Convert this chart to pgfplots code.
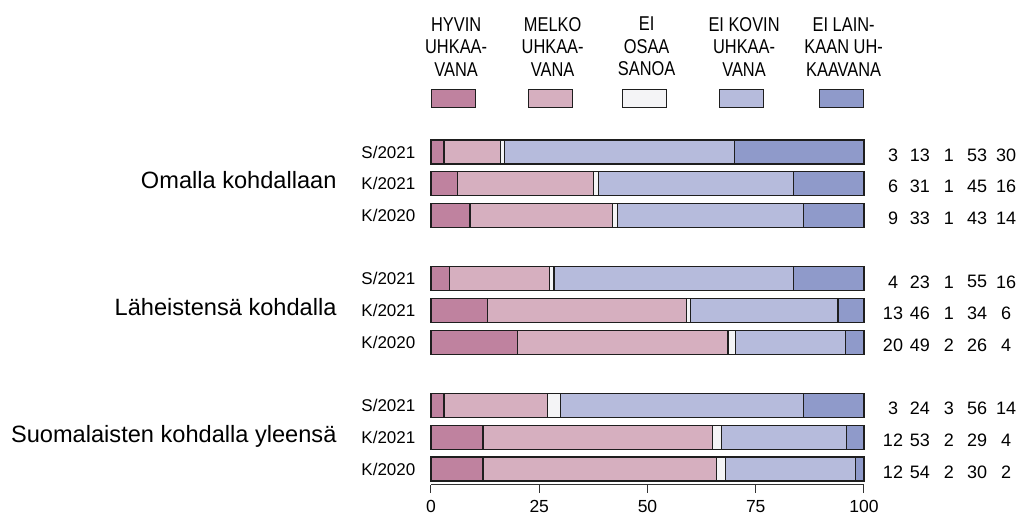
\documentclass[border=0pt]{standalone}
\usepackage{pgfplots}
\pgfplotsset{compat=1.18}
\usepackage{pgfplotstable}
\usepackage{fontspec}
\setmainfont{Liberation Sans}
\newfontfamily\narrowfont[FakeStretch=0.82]{Liberation Sans}

\definecolor{hyvin}{RGB}{191,130,159}
\definecolor{melko}{RGB}{214,175,191}
\definecolor{eos}{RGB}{244,244,246}
\definecolor{kovin}{RGB}{182,187,220}
\definecolor{lainkaan}{RGB}{143,154,202}
\definecolor{edge}{RGB}{30,30,30}

% bar lengths (each row sums to 100)
\pgfplotstableread{
y  a    b    c   d    e
10 3    13   1   53   30
9  6.2  31.4 1.0 45.2 16.2
8  9    33   1   43   14
6  4.3  23.1 1.0 55.4 16.2
5  13   46   1   34   6
4  19.9 48.7 1.8 25.4 4.2
2  3    24   3   56   14
1  12   53   2   29   4
0  12   54   2   30   2
}\data

\begin{document}
\begin{tikzpicture}
\useasboundingbox (0,0) rectangle (509.5pt,256.5pt);
\begin{axis}[
  at={(215.5pt,14.05pt)}, anchor=south west,
  x=2.165pt, y=15.85pt,
  xmin=0, xmax=100, ymin=-0.5, ymax=10.5,
  xbar stacked, bar width=12pt,
  axis lines*=left,
  y axis line style={draw=none},
  x axis line style={line width=0.5pt, black!80},
  tick align=outside, major tick length=4pt,
  xtick={0,25,50,75,100},
  xtick style={line width=0.5pt, black!80},
  ytick={0,1,2,4,5,6,8,9,10},
  yticklabels={K/2020,K/2021,S/2021,K/2020,K/2021,S/2021,K/2020,K/2021,S/2021},
  ytick style={draw=none},
  yticklabel style={font=\fontsize{8.5}{10}\selectfont, xshift=-0.3pt},
  xticklabel style={font=\fontsize{8.75}{10}\selectfont},
  /pgf/number format/assume math mode=true,
  clip=false,
  every axis plot/.append style={draw=edge, line width=0.55pt},
]
\addplot[fill=hyvin]    table[x=a, y=y]{\data};
\addplot[fill=melko]    table[x=b, y=y]{\data};
\addplot[fill=eos]      table[x=c, y=y]{\data};
\addplot[fill=kovin]    table[x=d, y=y]{\data};
\addplot[fill=lainkaan] table[x=e, y=y]{\data};

% group labels
\node[anchor=base east, font=\fontsize{11.8}{14}\selectfont] at (axis cs:-20.2,8.84) {Omalla kohdallaan};
\node[anchor=base east, font=\fontsize{11.8}{14}\selectfont] at (axis cs:-20.2,4.84) {Läheistensä kohdalla};
\node[anchor=base east, font=\fontsize{11.8}{14}\selectfont] at (axis cs:-20.2,0.84) {Suomalaisten kohdalla yleensä};

% rounded percentages to the right
\newcommand\nums[6]{%
  \node[font=\fontsize{9}{10}\selectfont, yshift=-1.5pt] at (axis cs:106.7,#1) {#2};
  \node[font=\fontsize{9}{10}\selectfont, yshift=-1.5pt] at (axis cs:112.9,#1) {#3};
  \node[font=\fontsize{9}{10}\selectfont, yshift=-1.5pt] at (axis cs:119.6,#1) {#4};
  \node[font=\fontsize{9}{10}\selectfont, yshift=-1.5pt] at (axis cs:126.1,#1) {#5};
  \node[font=\fontsize{9}{10}\selectfont, yshift=-1.5pt] at (axis cs:132.8,#1) {#6};}
\nums{10}{3}{13}{1}{53}{30}
\nums{9}{6}{31}{1}{45}{16}
\nums{8}{9}{33}{1}{43}{14}
\nums{6}{4}{23}{1}{55}{16}
\nums{5}{13}{46}{1}{34}{6}
\nums{4}{20}{49}{2}{26}{4}
\nums{2}{3}{24}{3}{56}{14}
\nums{1}{12}{53}{2}{29}{4}
\nums{0}{12}{54}{2}{30}{2}

% legend
\newcommand\key[3]{%
  \draw[fill=#2, draw=edge, line width=0.5pt] (axis cs:#1-5.08,11.42) rectangle (axis cs:#1+5.08,11.96);
  \node[anchor=south, align=center, inner sep=0pt, font=\narrowfont\fontsize{10}{11.25}\selectfont] at (axis cs:#1+0.5,12.38) {#3};}
\key{5.3}{hyvin}{HYVIN\\UHKAA-\\VANA}
\key{27.6}{melko}{MELKO\\UHKAA-\\VANA}
\key{49.3}{eos}{EI\\OSAA\\SANOA}
\key{71.8}{kovin}{EI KOVIN\\UHKAA-\\VANA}
\key{94.8}{lainkaan}{EI LAIN-\\KAAN UH-\\KAAVANA}
\end{axis}
\end{tikzpicture}
\end{document}
